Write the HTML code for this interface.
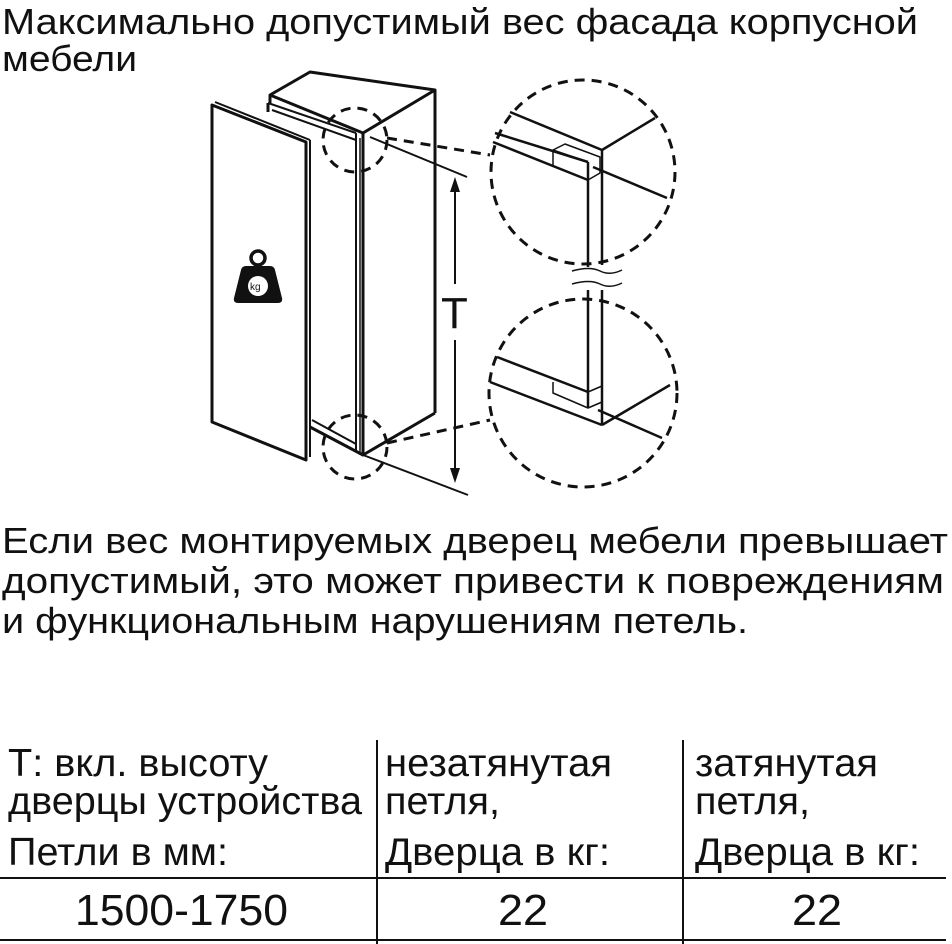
<!DOCTYPE html>
<html><head><meta charset="utf-8"><style>
html,body{margin:0;padding:0;background:#fff;}
svg{display:block;}
text{font-family:"Liberation Sans",sans-serif;fill:#111;}
</style></head><body>
<svg width="952" height="944" viewBox="0 0 952 944" xmlns="http://www.w3.org/2000/svg">
<g font-size="36">
<text x="2" y="34" textLength="916" lengthAdjust="spacingAndGlyphs">Максимально допустимый вес фасада корпусной</text>
<text x="2" y="71" textLength="135" lengthAdjust="spacingAndGlyphs">мебели</text>
<text x="2" y="553" textLength="946" lengthAdjust="spacingAndGlyphs">Если вес монтируемых дверец мебели превышает</text>
<text x="2" y="593" textLength="942" lengthAdjust="spacingAndGlyphs">допустимый, это может привести к повреждениям</text>
<text x="2" y="633" textLength="746" lengthAdjust="spacingAndGlyphs">и функциональным нарушениям петель.</text>
</g>
<g font-size="39">
<text x="8" y="776" textLength="260" lengthAdjust="spacingAndGlyphs">Т: вкл. высоту</text>
<text x="8" y="814" textLength="354" lengthAdjust="spacingAndGlyphs">дверцы устройства</text>
<text x="8" y="865" textLength="220" lengthAdjust="spacingAndGlyphs">Петли в мм:</text>
<text x="385" y="776" textLength="227" lengthAdjust="spacingAndGlyphs">незатянутая</text>
<text x="385" y="814" textLength="115" lengthAdjust="spacingAndGlyphs">петля,</text>
<text x="385" y="865" textLength="225" lengthAdjust="spacingAndGlyphs">Дверца в кг:</text>
<text x="695" y="776" textLength="183" lengthAdjust="spacingAndGlyphs">затянутая</text>
<text x="695" y="814" textLength="115" lengthAdjust="spacingAndGlyphs">петля,</text>
<text x="695" y="865" textLength="225" lengthAdjust="spacingAndGlyphs">Дверца в кг:</text>
</g>
<g font-size="44">
<text x="75" y="925" textLength="213" lengthAdjust="spacingAndGlyphs">1500-1750</text>
<text x="498" y="925" textLength="50" lengthAdjust="spacingAndGlyphs">22</text>
<text x="792" y="925" textLength="50" lengthAdjust="spacingAndGlyphs">22</text>
</g>
<g stroke="#111" stroke-width="2" fill="none">
<line x1="377" y1="740" x2="377" y2="944"/>
<line x1="683" y1="740" x2="683" y2="944"/>
<line x1="0" y1="878" x2="946" y2="878"/>
<line x1="0" y1="940" x2="946" y2="940"/>
</g>

<g stroke="#111" stroke-width="3" fill="none" stroke-linejoin="round">
<polyline points="270,103 270,95 310,72 435,90 363,133 270,95"/>
<line x1="435" y1="90" x2="435" y2="413"/>
<polyline points="363,133 363,455 435,413"/>
<line x1="310" y1="427" x2="363" y2="455"/>
<line x1="312" y1="420" x2="356" y2="444" stroke-width="2"/>
<line x1="268" y1="103" x2="268" y2="112"/>
<line x1="268" y1="103" x2="356" y2="133" stroke-width="2"/>
<line x1="272" y1="110" x2="356" y2="140" stroke-width="2"/>
<line x1="356" y1="133" x2="356" y2="450" stroke-width="2"/>
<line x1="360" y1="138" x2="360" y2="452" stroke-width="1.5"/>
<polygon points="212,105 306,142 306,460 212,422" fill="#fff"/>
<line x1="215" y1="102" x2="310" y2="140" stroke-width="2"/>
<line x1="310" y1="140" x2="310" y2="457" stroke-width="2"/>
<line x1="370" y1="137" x2="467" y2="177" stroke-width="2"/>
<line x1="363" y1="455" x2="468" y2="495" stroke-width="2"/>
<line x1="455" y1="190" x2="455" y2="284" stroke-width="2"/>
<line x1="455" y1="340" x2="455" y2="470" stroke-width="2"/>
</g>
<polygon points="455,177 450,192 460,192" fill="#111"/>
<polygon points="455,483 450,468 460,468" fill="#111"/>
<text x="441" y="328" font-size="44">T</text>
<circle cx="258" cy="258" r="7" fill="none" stroke="#111" stroke-width="3.5"/>
<path d="M246,266 L270,266 Q274,266 275,270 L282,298 Q283,303 278,303 L238,303 Q233,303 234,298 L241,270 Q242,266 246,266 Z" fill="#111"/>
<circle cx="258" cy="286" r="10" fill="#fff"/>
<text x="250" y="290" font-size="10">kg</text>
<g stroke="#111" stroke-width="3" fill="none" stroke-dasharray="10,7">
<circle cx="355" cy="140" r="32"/>
<circle cx="355" cy="447" r="32"/>
<line x1="387" y1="138" x2="490" y2="155"/>
<line x1="387" y1="443" x2="490" y2="420"/>
<circle cx="583" cy="172" r="92"/>
<circle cx="583" cy="393" r="94"/>
</g>
<g stroke="#111" stroke-width="2.5" fill="none" stroke-linejoin="round">
<line x1="510" y1="112" x2="602" y2="150"/>
<line x1="602" y1="150" x2="655" y2="118"/>
<line x1="495" y1="133" x2="588" y2="162"/>
<line x1="493" y1="142" x2="588" y2="180"/>
<line x1="588" y1="162" x2="588" y2="267"/>
<line x1="602" y1="150" x2="602" y2="265"/>
<line x1="593" y1="167" x2="667" y2="198"/>
<polyline points="553,165 553,150 565,144 600,157 600,173 588,180" stroke-width="1.5"/>
<line x1="553" y1="150" x2="588" y2="162" stroke-width="1.5"/>
<path d="M572,271 Q590,266 600,271 T622,270" stroke-width="1.5"/>
<path d="M572,284 Q590,279 600,284 T622,283" stroke-width="1.5"/>
<line x1="588" y1="290" x2="588" y2="408"/>
<line x1="602" y1="290" x2="602" y2="425"/>
<line x1="497" y1="357" x2="588" y2="392"/>
<line x1="490" y1="382" x2="602" y2="425"/>
<line x1="602" y1="425" x2="670" y2="385"/>
<line x1="598" y1="410" x2="662" y2="438"/>
<polyline points="553,382 553,393 588,408 602,402" stroke-width="1.5"/>
<line x1="588" y1="392" x2="602" y2="386" stroke-width="1.5"/>
</g>
</svg>
</body></html>
